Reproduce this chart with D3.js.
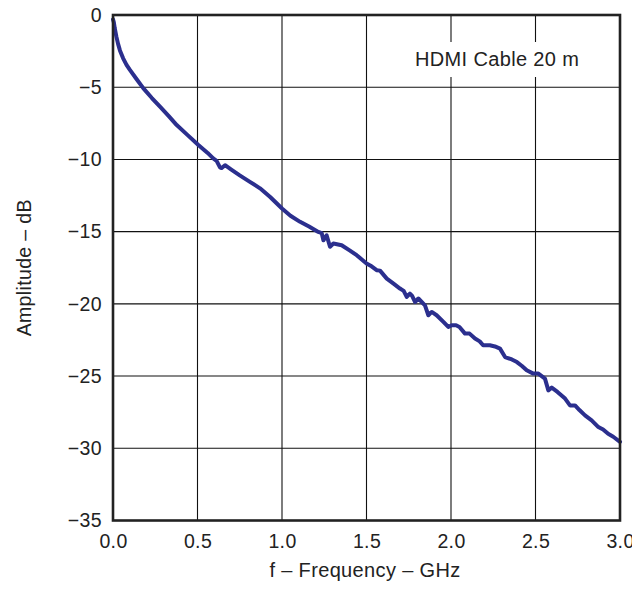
<!DOCTYPE html>
<html><head><meta charset="utf-8">
<script src="https://cdn.jsdelivr.net/npm/d3@7"></script>
<style>
html,body{margin:0;padding:0;background:#fff;}
text{font-family:"Liberation Sans",Arial,Helvetica,sans-serif;fill:#222;letter-spacing:0.35px;}
</style></head>
<body>
<svg id="chart" width="632" height="589"></svg>
<script>
const freqGHz = [0.0,0.005,0.01,0.02,0.03,0.041,0.06,0.08,0.1,0.14,0.18,0.23,0.278,0.33,0.377,0.44,0.505,0.56,0.593,0.613,0.633,0.643,0.663,0.7,0.75,0.81,0.87,0.93,1.0,1.05,1.107,1.16,1.215,1.235,1.245,1.264,1.284,1.304,1.353,1.4,1.442,1.5,1.53,1.56,1.58,1.62,1.66,1.698,1.72,1.738,1.757,1.77,1.787,1.807,1.846,1.866,1.886,1.915,1.955,1.984,2.004,2.03,2.05,2.083,2.11,2.142,2.17,2.19,2.23,2.26,2.29,2.32,2.36,2.39,2.42,2.448,2.487,2.517,2.556,2.576,2.596,2.63,2.675,2.704,2.734,2.76,2.793,2.832,2.872,2.9,2.93,2.96,3.0];
const amplitudeDB = [-0.3,-0.5,-0.9,-1.5,-2.0,-2.45,-3.0,-3.45,-3.8,-4.45,-5.08,-5.75,-6.35,-7.0,-7.62,-8.3,-9.0,-9.55,-9.93,-10.1,-10.55,-10.6,-10.4,-10.7,-11.1,-11.55,-12.0,-12.6,-13.4,-13.9,-14.32,-14.65,-15.02,-15.1,-15.6,-15.25,-16.05,-15.82,-15.94,-16.3,-16.63,-17.2,-17.4,-17.67,-17.7,-18.25,-18.6,-18.94,-19.1,-19.52,-19.29,-19.45,-19.87,-19.63,-20.1,-20.79,-20.56,-20.79,-21.25,-21.6,-21.48,-21.48,-21.6,-22.06,-22.06,-22.4,-22.6,-22.87,-22.87,-22.95,-23.1,-23.68,-23.85,-24.03,-24.3,-24.6,-24.83,-24.83,-25.18,-25.99,-25.8,-26.1,-26.56,-27.03,-27.03,-27.35,-27.72,-28.07,-28.53,-28.7,-29.0,-29.2,-29.55];
const xTicks = [0,0.5,1.0,1.5,2.0,2.5,3.0];
const yTicks = [0,-5,-10,-15,-20,-25,-30,-35];
const xLabel = "f – Frequency – GHz";
const yLabel = "Amplitude – dB";
const annotation = "HDMI Cable 20 m";

const svg = d3.select("#chart");
const L = 113, R = 620, T = 15, B = 520.5;
const x = d3.scaleLinear().domain([0,3]).range([L,R]);
const y = d3.scaleLinear().domain([-35,0]).range([B,T]);
const fs = 19.5;

// grid
svg.append("g").selectAll("line.v").data(xTicks).join("line")
  .attr("x1",d=>x(d)).attr("x2",d=>x(d)).attr("y1",T).attr("y2",B)
  .attr("stroke","#111").attr("stroke-width",1.1);
svg.append("g").selectAll("line.h").data(yTicks).join("line")
  .attr("y1",d=>y(d)).attr("y2",d=>y(d)).attr("x1",L).attr("x2",R)
  .attr("stroke","#111").attr("stroke-width",1.1);

// annotation box masking grid
svg.append("rect").attr("x",405).attr("y",42).attr("width",185).attr("height",35).attr("fill","#fff");
svg.append("text").attr("x",415).attr("y",66).attr("font-size",20).text(annotation);

// data line
const line = d3.line().x((d,i)=>x(freqGHz[i])).y((d,i)=>y(amplitudeDB[i]));
svg.append("path").datum(amplitudeDB).attr("d",line)
  .attr("fill","none").attr("stroke","#2b2f8e").attr("stroke-width",4)
  .attr("stroke-linejoin","round").attr("stroke-linecap","round");

// frame
svg.append("rect").attr("x",L).attr("y",T).attr("width",R-L).attr("height",B-T)
  .attr("fill","none").attr("stroke","#222").attr("stroke-width",2.6);

// axes labels via d3 axes
const xAxis = d3.axisBottom(x).tickValues(xTicks).tickFormat(d3.format(".1f")).tickSize(0).tickPadding(14);
const gx = svg.append("g").attr("transform",`translate(0,${B})`).call(xAxis);
gx.select(".domain").remove();
gx.selectAll("text").attr("font-size",fs).attr("font-family",null).attr("fill","#222");

const yAxis = d3.axisLeft(y).tickValues(yTicks).tickFormat(d=>d<0?"\u2212"+Math.abs(d):d).tickSize(0).tickPadding(11);
const gy = svg.append("g").attr("transform",`translate(${L},0)`).call(yAxis);
gy.select(".domain").remove();
gy.selectAll("text").attr("font-size",fs).attr("font-family",null).attr("fill","#222");

svg.append("text").attr("x",365).attr("y",577).attr("text-anchor","middle").attr("font-size",20).text(xLabel);
svg.append("text").attr("transform",`translate(31,${(T+B)/2}) rotate(-90)`).attr("text-anchor","middle").attr("font-size",19.5).text(yLabel);
</script>
</body></html>
